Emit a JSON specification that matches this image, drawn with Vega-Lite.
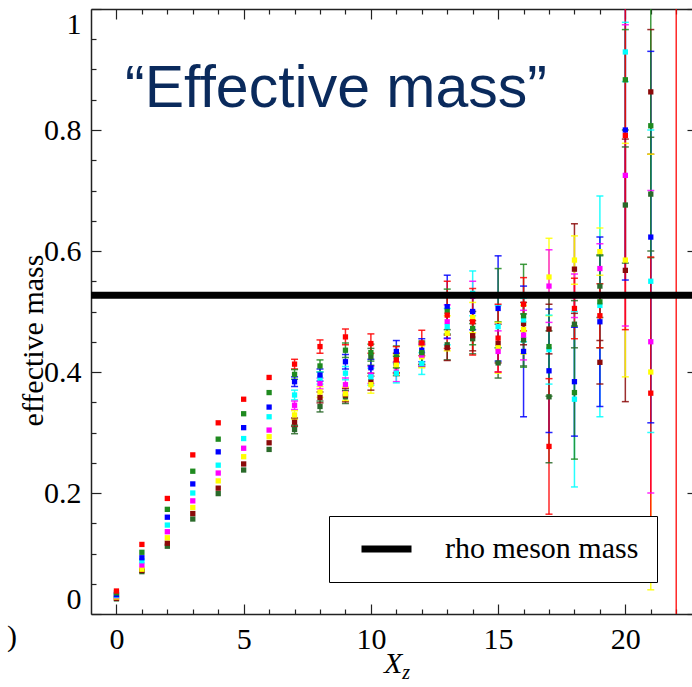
{
  "$schema": "https://vega.github.io/schema/vega-lite/v6.json",
  "width": 601,
  "height": 605,
  "autosize": {"type": "none"},
  "padding": {"left": 91, "top": 9, "right": 0, "bottom": 73},
  "background": "white",
  "config": {
    "view": {"stroke": null},
    "axis": {
      "grid": false,
      "domainColor": "#222222",
      "domainWidth": 1.5,
      "tickColor": "#222222",
      "tickWidth": 1.2,
      "labelFontSize": 30,
      "labelColor": "black",
      "labelOverlap": false,
      "titleFontWeight": "normal",
      "titleColor": "black",
      "titleFontSize": 30
    }
  },
  "datasets": {
    "pts": [
      {"x":0,"s":"s8","y":0.025},{"x":0,"s":"s7","y":0.026},{"x":0,"s":"s6","y":0.028},{"x":0,"s":"s5","y":0.030},{"x":0,"s":"s4","y":0.031},{"x":0,"s":"s3","y":0.032},{"x":0,"s":"s2","y":0.035},{"x":0,"s":"s1","y":0.038},
      {"x":1,"s":"s8","y":0.070},{"x":1,"s":"s7","y":0.072},{"x":1,"s":"s6","y":0.074},{"x":1,"s":"s5","y":0.081},{"x":1,"s":"s4","y":0.088},{"x":1,"s":"s3","y":0.093},{"x":1,"s":"s2","y":0.102},{"x":1,"s":"s1","y":0.115},
      {"x":2,"s":"s8","y":0.112},{"x":2,"s":"s7","y":0.117},{"x":2,"s":"s6","y":0.126},{"x":2,"s":"s5","y":0.136},{"x":2,"s":"s4","y":0.147},{"x":2,"s":"s3","y":0.160},{"x":2,"s":"s2","y":0.173},{"x":2,"s":"s1","y":0.191},
      {"x":3,"s":"s8","y":0.157},{"x":3,"s":"s7","y":0.166},{"x":3,"s":"s6","y":0.176},{"x":3,"s":"s5","y":0.187},{"x":3,"s":"s4","y":0.200},{"x":3,"s":"s3","y":0.215},{"x":3,"s":"s2","y":0.236},{"x":3,"s":"s1","y":0.263},
      {"x":4,"s":"s8","y":0.199},{"x":4,"s":"s7","y":0.208},{"x":4,"s":"s6","y":0.220},{"x":4,"s":"s5","y":0.233},{"x":4,"s":"s4","y":0.246},{"x":4,"s":"s3","y":0.268},{"x":4,"s":"s2","y":0.289},{"x":4,"s":"s1","y":0.316},
      {"x":5,"s":"s8","y":0.238},{"x":5,"s":"s7","y":0.248},{"x":5,"s":"s6","y":0.260},{"x":5,"s":"s5","y":0.274},{"x":5,"s":"s4","y":0.290},{"x":5,"s":"s3","y":0.308},{"x":5,"s":"s2","y":0.331},{"x":5,"s":"s1","y":0.355},
      {"x":6,"s":"s8","y":0.272},{"x":6,"s":"s7","y":0.283},{"x":6,"s":"s6","y":0.293},{"x":6,"s":"s5","y":0.304},{"x":6,"s":"s4","y":0.326},{"x":6,"s":"s3","y":0.342},{"x":6,"s":"s2","y":0.366},{"x":6,"s":"s1","y":0.391},
      {"x":7,"s":"s8","y":0.305,"lo":0.298,"hi":0.312},{"x":7,"s":"s7","y":0.317,"lo":0.310,"hi":0.324},{"x":7,"s":"s6","y":0.329,"lo":0.322,"hi":0.336},{"x":7,"s":"s5","y":0.345,"lo":0.338,"hi":0.352},{"x":7,"s":"s4","y":0.362,"lo":0.354,"hi":0.370},{"x":7,"s":"s3","y":0.384,"lo":0.376,"hi":0.392},{"x":7,"s":"s2","y":0.396,"lo":0.388,"hi":0.404},{"x":7,"s":"s1","y":0.413,"lo":0.405,"hi":0.421},
      {"x":8,"s":"s8","y":0.343,"lo":0.334,"hi":0.352},{"x":8,"s":"s7","y":0.358,"lo":0.349,"hi":0.367},{"x":8,"s":"s6","y":0.367,"lo":0.358,"hi":0.376},{"x":8,"s":"s5","y":0.381,"lo":0.372,"hi":0.390},{"x":8,"s":"s4","y":0.390,"lo":0.380,"hi":0.400},{"x":8,"s":"s3","y":0.395,"lo":0.385,"hi":0.405},{"x":8,"s":"s2","y":0.410,"lo":0.400,"hi":0.420},{"x":8,"s":"s1","y":0.442,"lo":0.431,"hi":0.453},
      {"x":9,"s":"s8","y":0.359,"lo":0.348,"hi":0.370},{"x":9,"s":"s7","y":0.362,"lo":0.351,"hi":0.373},{"x":9,"s":"s6","y":0.364,"lo":0.353,"hi":0.375},{"x":9,"s":"s5","y":0.379,"lo":0.368,"hi":0.390},{"x":9,"s":"s4","y":0.398,"lo":0.387,"hi":0.409},{"x":9,"s":"s3","y":0.417,"lo":0.405,"hi":0.429},{"x":9,"s":"s2","y":0.436,"lo":0.424,"hi":0.448},{"x":9,"s":"s1","y":0.458,"lo":0.445,"hi":0.471},
      {"x":10,"s":"s8","y":0.425,"lo":0.411,"hi":0.439},{"x":10,"s":"s7","y":0.384,"lo":0.370,"hi":0.398},{"x":10,"s":"s6","y":0.379,"lo":0.365,"hi":0.393},{"x":10,"s":"s5","y":0.395,"lo":0.381,"hi":0.409},{"x":10,"s":"s4","y":0.392,"lo":0.378,"hi":0.406},{"x":10,"s":"s3","y":0.407,"lo":0.393,"hi":0.421},{"x":10,"s":"s2","y":0.432,"lo":0.418,"hi":0.446},{"x":10,"s":"s1","y":0.447,"lo":0.431,"hi":0.463},
      {"x":11,"s":"s8","y":0.410,"lo":0.394,"hi":0.426},{"x":11,"s":"s7","y":0.415,"lo":0.399,"hi":0.431},{"x":11,"s":"s6","y":0.412,"lo":0.396,"hi":0.428},{"x":11,"s":"s5","y":0.400,"lo":0.384,"hi":0.416},{"x":11,"s":"s4","y":0.398,"lo":0.382,"hi":0.414},{"x":11,"s":"s3","y":0.434,"lo":0.416,"hi":0.452},{"x":11,"s":"s2","y":0.425,"lo":0.407,"hi":0.443},{"x":11,"s":"s1","y":0.420,"lo":0.398,"hi":0.442},
      {"x":12,"s":"s8","y":0.427,"lo":0.409,"hi":0.445},{"x":12,"s":"s7","y":0.430,"lo":0.412,"hi":0.448},{"x":12,"s":"s6","y":0.425,"lo":0.407,"hi":0.443},{"x":12,"s":"s5","y":0.428,"lo":0.410,"hi":0.446},{"x":12,"s":"s4","y":0.414,"lo":0.396,"hi":0.432},{"x":12,"s":"s3","y":0.436,"lo":0.417,"hi":0.455},{"x":12,"s":"s2","y":0.432,"lo":0.413,"hi":0.451},{"x":12,"s":"s1","y":0.448,"lo":0.427,"hi":0.469},
      {"x":13,"s":"s8","y":0.445,"lo":0.420,"hi":0.470},{"x":13,"s":"s7","y":0.440,"lo":0.419,"hi":0.461},{"x":13,"s":"s6","y":0.464,"lo":0.435,"hi":0.493},{"x":13,"s":"s5","y":0.483,"lo":0.455,"hi":0.511},{"x":13,"s":"s4","y":0.475,"lo":0.445,"hi":0.505},{"x":13,"s":"s3","y":0.508,"lo":0.456,"hi":0.560},{"x":13,"s":"s2","y":0.500,"lo":0.463,"hi":0.537},{"x":13,"s":"s1","y":0.494,"lo":0.439,"hi":0.550},
      {"x":14,"s":"s8","y":0.455,"lo":0.430,"hi":0.480},{"x":14,"s":"s7","y":0.460,"lo":0.435,"hi":0.485},{"x":14,"s":"s6","y":0.490,"lo":0.465,"hi":0.515},{"x":14,"s":"s5","y":0.525,"lo":0.500,"hi":0.550},{"x":14,"s":"s4","y":0.530,"lo":0.493,"hi":0.567},{"x":14,"s":"s3","y":0.500,"lo":0.470,"hi":0.530},{"x":14,"s":"s2","y":0.472,"lo":0.445,"hi":0.500},{"x":14,"s":"s1","y":0.483,"lo":0.428,"hi":0.538},
      {"x":15,"s":"s8","y":0.415,"lo":0.390,"hi":0.440},{"x":15,"s":"s7","y":0.447,"lo":0.415,"hi":0.479},{"x":15,"s":"s6","y":0.440,"lo":0.398,"hi":0.482},{"x":15,"s":"s5","y":0.434,"lo":0.400,"hi":0.468},{"x":15,"s":"s4","y":0.475,"lo":0.440,"hi":0.510},{"x":15,"s":"s3","y":0.505,"lo":0.418,"hi":0.592},{"x":15,"s":"s2","y":0.527,"lo":0.483,"hi":0.571},{"x":15,"s":"s1","y":0.456,"lo":0.400,"hi":0.512},
      {"x":16,"s":"s8","y":0.453,"lo":0.410,"hi":0.496},{"x":16,"s":"s7","y":0.480,"lo":0.445,"hi":0.515},{"x":16,"s":"s6","y":0.470,"lo":0.430,"hi":0.510},{"x":16,"s":"s5","y":0.461,"lo":0.420,"hi":0.502},{"x":16,"s":"s4","y":0.486,"lo":0.450,"hi":0.522},{"x":16,"s":"s3","y":0.434,"lo":0.326,"hi":0.542},{"x":16,"s":"s2","y":0.493,"lo":0.408,"hi":0.578},{"x":16,"s":"s1","y":0.512,"lo":0.468,"hi":0.556},
      {"x":17,"s":"s8","y":0.359,"lo":0.250,"hi":0.468},{"x":17,"s":"s7","y":0.471,"lo":0.430,"hi":0.512},{"x":17,"s":"s6","y":0.557,"lo":0.493,"hi":0.621},{"x":17,"s":"s5","y":0.542,"lo":0.482,"hi":0.602},{"x":17,"s":"s4","y":0.437,"lo":0.380,"hi":0.494},{"x":17,"s":"s3","y":0.402,"lo":0.300,"hi":0.504},{"x":17,"s":"s2","y":0.442,"lo":0.360,"hi":0.524},{"x":17,"s":"s1","y":0.277,"lo":0.165,"hi":0.389},
      {"x":18,"s":"s8","y":0.479,"lo":0.440,"hi":0.518},{"x":18,"s":"s7","y":0.570,"lo":0.497,"hi":0.645},{"x":18,"s":"s6","y":0.585,"lo":0.545,"hi":0.625},{"x":18,"s":"s5","y":0.526,"lo":0.490,"hi":0.562},{"x":18,"s":"s4","y":0.355,"lo":0.210,"hi":0.500},{"x":18,"s":"s3","y":0.384,"lo":0.294,"hi":0.474},{"x":18,"s":"s2","y":0.366,"lo":0.256,"hi":0.476},{"x":18,"s":"s1","y":0.505,"lo":0.455,"hi":0.555},
      {"x":19,"s":"s8","y":0.542,"lo":0.490,"hi":0.594},{"x":19,"s":"s7","y":0.416,"lo":0.380,"hi":0.452},{"x":19,"s":"s6","y":0.599,"lo":0.560,"hi":0.638},{"x":19,"s":"s5","y":0.571,"lo":0.530,"hi":0.612},{"x":19,"s":"s4","y":0.510,"lo":0.326,"hi":0.691},{"x":19,"s":"s3","y":0.483,"lo":0.343,"hi":0.623},{"x":19,"s":"s2","y":0.516,"lo":0.440,"hi":0.592},{"x":19,"s":"s1","y":0.493,"lo":0.440,"hi":0.546},
      {"x":20,"s":"s8","y":0.676,"lo":0.580,"hi":0.772},{"x":20,"s":"s7","y":0.568,"lo":0.351,"hi":0.785},{"x":20,"s":"s6","y":0.585,"lo":0.392,"hi":0.778},{"x":20,"s":"s5","y":0.725,"lo":0.476,"hi":0.974},{"x":20,"s":"s4","y":0.929,"lo":0.880,"hi":0.978},{"x":20,"s":"s3","y":0.800,"lo":0.552,"hi":1.048},{"x":20,"s":"s2","y":0.883,"lo":0.800,"hi":0.966},{"x":20,"s":"s1","y":0.791,"lo":0.470,"hi":1.112},
      {"x":21,"s":"s8","y":0.694,"lo":0.600,"hi":0.788},{"x":21,"s":"s7","y":0.863,"lo":0.760,"hi":0.966},{"x":21,"s":"s6","y":0.400,"lo":0.040,"hi":0.760},{"x":21,"s":"s5","y":0.450,"lo":0.200,"hi":0.700},{"x":21,"s":"s4","y":0.550,"lo":0.300,"hi":0.800},{"x":21,"s":"s3","y":0.623,"lo":0.316,"hi":0.930},{"x":21,"s":"s2","y":0.807,"lo":0.589,"hi":1.025},{"x":21,"s":"s1","y":0.365,"lo":0.140,"hi":0.590},
      {"x":22,"s":"s1","y":1.3,"lo":-0.3,"hi":2.9}
    ],
    "rho": [{"y": 0.527, "name": "rho meson mass"}],
    "title": [{"x": 0.34, "y": 0.838, "t": "“Effective mass”"}],
    "xlab": [{"x": 10.88, "y": -0.098, "t": "X"}],
    "zlab": [{"x": 11.23, "y": -0.107, "t": "z"}],
    "paren": [{"x": -4.1, "y": -0.053, "t": ")"}]
  },
  "layer": [
    {
      "data": {"name": "pts"},
      "transform": [{"filter": "isValid(datum.lo)"}],
      "mark": {"type": "rule", "strokeWidth": 1.5, "clip": true, "opacity": 0.85},
      "encoding": {
        "x": {"field": "x", "type": "quantitative", "scale": {"domain": [-1, 22.62], "nice": false, "zero": false},
          "axis": {"orient": "top", "values": [0,1,2,3,4,5,6,7,8,9,10,11,12,13,14,15,16,17,18,19,20,21,22], "labels": false, "title": null,
            "tickSize": {"condition": {"test": "datum.value % 5 === 0", "value": -10}, "value": -5}}},
        "y": {"field": "lo", "type": "quantitative", "scale": {"domain": [0, 1], "nice": false, "zero": false},
          "axis": {"orient": "right", "offset": 5, "values": [0,0.05,0.1,0.15,0.2,0.25,0.3,0.35,0.4,0.45,0.5,0.55,0.6,0.65,0.7,0.75,0.8,0.85,0.9,0.95,1], "labels": false, "title": null,
            "tickSize": {"condition": {"test": "abs(datum.value*5 - round(datum.value*5)) < 0.001", "value": -10}, "value": -5}}},
        "y2": {"field": "hi"},
        "color": {"field": "s", "type": "nominal", "legend": null,
          "scale": {"domain": ["s1","s2","s3","s4","s5","s6","s7","s8"], "range": ["#ff0000","#1f8a1f","#0000ff","#00ffff","#ff00ff","#ffff00","#8b0a0a","#2a6a2a"]}}
      }
    },
    {
      "data": {"name": "pts"},
      "transform": [{"filter": "isValid(datum.lo)"}],
      "mark": {"type": "tick", "orient": "horizontal", "size": 7, "thickness": 1.5, "clip": true, "opacity": 0.85},
      "encoding": {
        "x": {"field": "x", "type": "quantitative", "scale": {"domain": [-1, 22.62], "nice": false, "zero": false}, "axis": null},
        "y": {"field": "lo", "type": "quantitative", "scale": {"domain": [0, 1], "nice": false, "zero": false}, "axis": null},
        "color": {"field": "s", "type": "nominal", "legend": null}
      }
    },
    {
      "data": {"name": "pts"},
      "transform": [{"filter": "isValid(datum.hi)"}],
      "mark": {"type": "tick", "orient": "horizontal", "size": 7, "thickness": 1.5, "clip": true, "opacity": 0.85},
      "encoding": {
        "x": {"field": "x", "type": "quantitative", "scale": {"domain": [-1, 22.62], "nice": false, "zero": false}, "axis": null},
        "y": {"field": "hi", "type": "quantitative", "scale": {"domain": [0, 1], "nice": false, "zero": false}, "axis": null},
        "color": {"field": "s", "type": "nominal", "legend": null}
      }
    },
    {
      "data": {"name": "pts"},
      "mark": {"type": "point", "shape": "square", "filled": true, "size": 28, "opacity": 1, "clip": true},
      "encoding": {
        "x": {"field": "x", "type": "quantitative", "scale": {"domain": [-1, 22.62], "nice": false, "zero": false},
          "axis": {"orient": "bottom", "values": [0,1,2,3,4,5,6,7,8,9,10,11,12,13,14,15,16,17,18,19,20,21,22],
            "labelExpr": "datum.value % 5 === 0 ? datum.label : ''", "labelPadding": 20, "labelFlush": false, "title": null,
            "labelFont": "Times New Roman", "labelFontSize": 30, "labelColor": "black",
            "tickSize": {"condition": {"test": "datum.value % 5 === 0", "value": -10}, "value": -5}}},
        "y": {"field": "y", "type": "quantitative", "scale": {"domain": [0, 1], "nice": false, "zero": false},
          "axis": {"orient": "left", "values": [0,0.05,0.1,0.15,0.2,0.25,0.3,0.35,0.4,0.45,0.5,0.55,0.6,0.65,0.7,0.75,0.8,0.85,0.9,0.95,1],
            "labelExpr": "abs(datum.value*5 - round(datum.value*5)) < 0.001 ? format(datum.value, '~g') : ''",
            "labelPadding": 20, "labelFlush": true,
            "labelFont": "serif", "labelFontSize": 30, "labelColor": "black",
            "tickSize": {"condition": {"test": "abs(datum.value*5 - round(datum.value*5)) < 0.001", "value": -10}, "value": -5},
            "title": "effective mass", "titleFont": "Liberation Serif", "titleFontSize": 30, "titleFontWeight": "normal", "titleColor": "black",
            "titleX": -49, "titleY": 331, "titleAngle": 270, "titleAlign": "center", "titleBaseline": "alphabetic"}},
        "color": {"field": "s", "type": "nominal", "legend": null}
      }
    },
    {
      "data": {"name": "rho"},
      "mark": {"type": "rule", "strokeWidth": 7},
      "encoding": {
        "y": {"field": "y", "type": "quantitative", "scale": {"domain": [0, 1], "nice": false, "zero": false}, "axis": null},
        "stroke": {"field": "name", "type": "nominal", "scale": {"range": ["black"]},
          "legend": {"orient": "none", "legendX": 238, "legendY": 507, "title": null,
            "strokeColor": "black", "fillColor": "white", "padding": 18,
            "symbolType": "stroke", "symbolSize": 2500, "symbolStrokeWidth": 7, "symbolStrokeColor": "black",
            "clipHeight": 30, "symbolOffset": 11,
            "labelFont": "Liberation Serif", "labelFontSize": 30, "labelColor": "black", "labelOffset": 30, "labelLimit": 400}}
      }
    },
    {
      "data": {"name": "title"},
      "mark": {"type": "text", "font": "Liberation Sans", "fontSize": 59, "color": "#0a2a5c", "align": "left", "baseline": "alphabetic"},
      "encoding": {
        "x": {"field": "x", "type": "quantitative", "scale": {"domain": [-1, 22.62], "nice": false, "zero": false}, "axis": null},
        "y": {"field": "y", "type": "quantitative", "scale": {"domain": [0, 1], "nice": false, "zero": false}, "axis": null},
        "text": {"field": "t"}
      }
    },
    {
      "data": {"name": "xlab"},
      "mark": {"type": "text", "font": "Liberation Serif", "fontSize": 30, "fontStyle": "italic", "color": "black", "align": "center", "baseline": "alphabetic"},
      "encoding": {
        "x": {"field": "x", "type": "quantitative", "scale": {"domain": [-1, 22.62], "nice": false, "zero": false}, "axis": null},
        "y": {"field": "y", "type": "quantitative", "scale": {"domain": [0, 1], "nice": false, "zero": false}, "axis": null},
        "text": {"field": "t"}
      }
    },
    {
      "data": {"name": "zlab"},
      "mark": {"type": "text", "font": "Liberation Serif", "fontSize": 20, "fontStyle": "italic", "color": "black", "align": "left", "baseline": "alphabetic"},
      "encoding": {
        "x": {"field": "x", "type": "quantitative", "scale": {"domain": [-1, 22.62], "nice": false, "zero": false}, "axis": null},
        "y": {"field": "y", "type": "quantitative", "scale": {"domain": [0, 1], "nice": false, "zero": false}, "axis": null},
        "text": {"field": "t"}
      }
    },
    {
      "data": {"name": "paren"},
      "mark": {"type": "text", "font": "Liberation Serif", "fontSize": 30, "color": "black", "align": "center", "baseline": "alphabetic"},
      "encoding": {
        "x": {"field": "x", "type": "quantitative", "scale": {"domain": [-1, 22.62], "nice": false, "zero": false}, "axis": null},
        "y": {"field": "y", "type": "quantitative", "scale": {"domain": [0, 1], "nice": false, "zero": false}, "axis": null},
        "text": {"field": "t"}
      }
    }
  ],
  "resolve": {"axis": {"x": "independent", "y": "independent"}}
}
